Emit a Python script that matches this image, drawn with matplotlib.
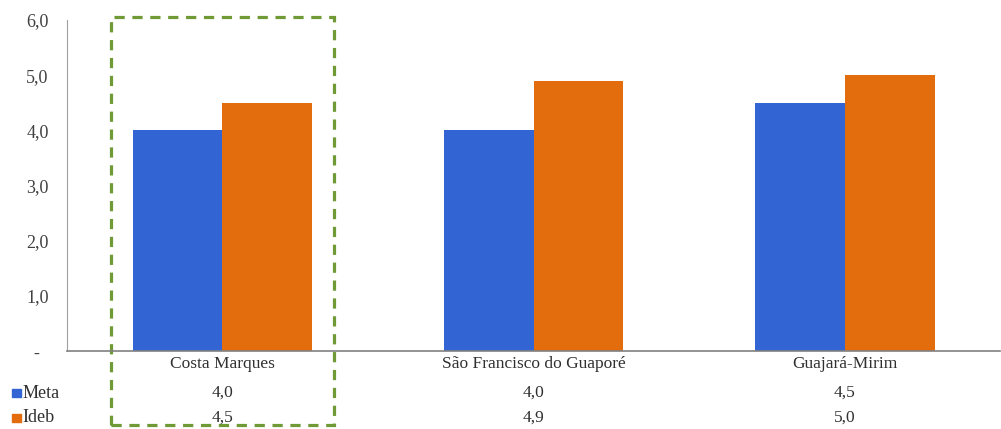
import matplotlib.pyplot as plt
import matplotlib.transforms as mtransforms
from matplotlib.patches import Rectangle
import numpy as np

plt.rcParams['font.family'] = ['Liberation Serif', 'DejaVu Serif']

cidades = ['Costa Marques', 'São Francisco do Guaporé', 'Guajará-Mirim']
meta = [4.0, 4.0, 4.5]
ideb = [4.5, 4.9, 5.0]
series = [('Meta', meta, '#3264d4'), ('Ideb', ideb, '#e36c0c')]
yticks = [0, 1, 2, 3, 4, 5, 6]

def fmt(v):
    # excel accounting style: zero shown as a dash
    return '-  ' if v == 0 else f'{v:.1f}'.replace('.', ',')

fig = plt.figure(figsize=(10.01, 4.29), dpi=100)
ax = fig.add_axes([0.0665, 0.1818, 0.933, 0.7716])

x = np.arange(len(cidades))
w = 0.288
ax.bar(x - w / 2, meta, w, color=series[0][2])
ax.bar(x + w / 2, ideb, w, color=series[1][2])

ax.set_xlim(-0.5, len(cidades) - 0.5)
ax.set_ylim(0, 6)
ax.set_yticks(yticks)
ax.set_yticklabels([fmt(v) for v in yticks], fontsize=13, color='#404040')
ax.tick_params(axis='y', length=0, pad=13)
ax.set_xticks([])
for s in ['top', 'right']:
    ax.spines[s].set_visible(False)
ax.spines['left'].set_color('#a0a0a0')
ax.spines['bottom'].set_color('#808080')
ax.spines['bottom'].set_linewidth(1.2)

# data table under the chart
trans = mtransforms.blended_transform_factory(ax.transData, fig.transFigure)
for i, c in enumerate(cidades):
    ax.text(i, 1 - 364 / 429, c, transform=trans, ha='center', va='center',
            fontsize=12.5, color='#303030')
row_y = [1 - 393 / 429, 1 - 418 / 429]
for (name, vals, col), yy in zip(series, row_y):
    for i, v in enumerate(vals):
        ax.text(i, yy, fmt(v), transform=trans, ha='center', va='center',
                fontsize=12.5, color='#303030')
    fig.patches.append(Rectangle((0.012, yy - 0.0095), 0.009, 0.018,
                                 transform=fig.transFigure, color=col))
    fig.text(0.022, yy, name, ha='left', va='center', fontsize=13, color='#303030')

# dashed highlight around the first city
box = Rectangle((-0.357, 1 - 425 / 429), 0.716, (425 - 17) / 429, transform=trans,
                fill=False, edgecolor='#6f9a35', linewidth=2.3, clip_on=False,
                linestyle=(0, (3.2, 2.4)))
ax.add_patch(box)

fig.savefig('out.png', dpi=100)
